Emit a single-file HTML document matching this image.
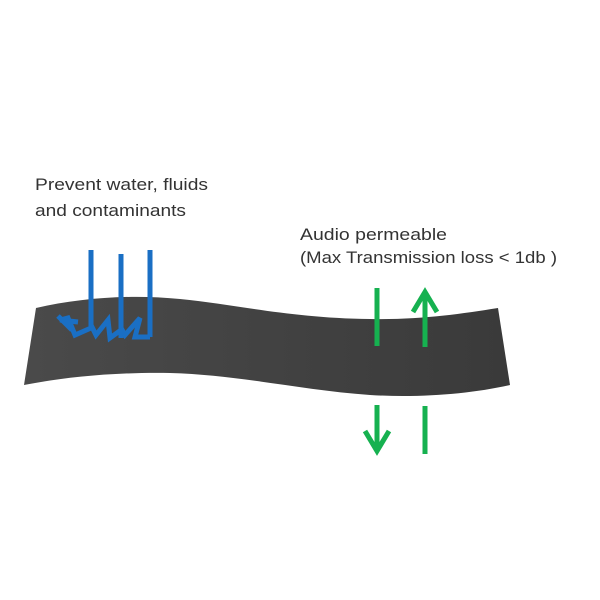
<!DOCTYPE html>
<html><head><style>
body{margin:0;background:#fff;}
svg{display:block}
text{font-family:"Liberation Sans",sans-serif;font-size:17px;fill:#333}
</style></head><body>
<svg width="600" height="600" viewBox="0 0 600 600">
<defs><linearGradient id="g" x1="0" x2="1" y1="0" y2="0">
<stop offset="0" stop-color="#4a4a4a"/><stop offset="1" stop-color="#3a3a3a"/></linearGradient></defs>
<path d="M36,308 C80,298 130,294 180,299 C240,305 290,318 370,319 C420,320 460,314 498,308 L510,385 C470,394 420,398 370,395 C300,390 240,375 170,373 C110,372 60,378 24,385 Z" fill="url(#g)"/>
<g stroke="#1a6fc4" stroke-width="5" fill="none" stroke-linecap="butt">
<line x1="91" y1="250" x2="91" y2="330"/>
<line x1="121" y1="254" x2="121" y2="338"/>
<line x1="150" y1="250" x2="150" y2="337"/>
<path d="M150,337 L135,337 L140,318 L125,335 L121,328"/>
<path d="M121,330 L110,338 L108,320 L96,335 L91,325"/>
<path d="M91,328 L75,335 L68,318 L60,320 L78,322"/>
<path d="M58,316 L72,330"/>
</g>
<g stroke="#16b150" stroke-width="5" fill="none">
<line x1="377" y1="288" x2="377" y2="346"/>
<line x1="425" y1="294" x2="425" y2="347"/>
<path d="M413,312 L425,292 L437,312" stroke-linejoin="miter"/>
<line x1="377" y1="405" x2="377" y2="448"/>
<path d="M365,431 L377,451 L389,431"/>
<line x1="425" y1="406" x2="425" y2="454"/>
</g>
<text x="35" y="190" textLength="173" lengthAdjust="spacingAndGlyphs">Prevent water, fluids</text>
<text x="35" y="216" textLength="151" lengthAdjust="spacingAndGlyphs">and contaminants</text>
<text x="300" y="240" textLength="147" lengthAdjust="spacingAndGlyphs">Audio permeable</text>
<text x="300" y="263" textLength="257" lengthAdjust="spacingAndGlyphs">(Max Transmission loss &lt; 1db )</text>
</svg>
</body></html>
